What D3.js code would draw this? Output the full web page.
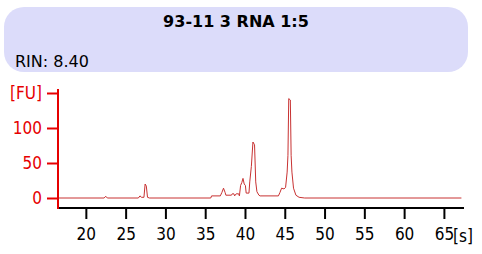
<!DOCTYPE html>
<html>
<head>
<meta charset="utf-8">
<script src="https://cdn.jsdelivr.net/npm/d3@7"></script>
<style>
  body { margin: 0; background: #fff; }
  text { font-family: "DejaVu Sans Condensed", "DejaVu Sans", sans-serif; }
</style>
</head>
<body>
<svg id="chart" width="482" height="254"></svg>
<script>
const title = "93-11 3 RNA 1:5";
const rinLabel = "RIN: 8.40";

// electropherogram trace: time [s] and fluorescence [FU]
const times = [16.5, 22.3, 22.5, 22.7, 26.6, 26.8, 27.0, 27.3, 27.45, 27.6, 27.75, 28.0,
  35.7, 35.8, 36.9, 37.1, 37.3, 37.5, 37.6, 38.3, 38.4, 38.6, 38.7, 38.9, 39.2, 39.3,
  39.45, 39.6, 39.75, 39.9, 40.05, 40.15, 40.5, 40.6, 40.8, 41.0, 41.2, 41.35, 41.5,
  41.75, 41.9, 44.2, 44.4, 44.6, 44.9, 45.1, 45.3, 45.4, 45.5, 45.7, 45.8, 45.9, 46.1,
  46.4, 46.8, 47.5, 67.2];
const fu = [0, 0, 2.5, 0, 0, 3, 1, 1, 20, 17, 1, 0,
  0, 3, 3, 8, 14, 8, 4, 4, 6, 6, 3, 6, 6, 3,
  18, 22, 28, 20, 18, 7, 7, 23, 45, 80, 76, 23, 9,
  4, 3, 3, 8, 14, 13, 15, 37, 61, 142, 140, 61, 37, 14,
  4, 1, 0, 0];

const xTicks = [20, 25, 30, 35, 40, 45, 50, 55, 60, 65];
const yTicks = [0, 50, 100, 150];
const yTickLabels = ["0", "50", "100", "[FU]"];

const svg = d3.select("#chart");

// header box
svg.append("rect")
  .attr("x", 4).attr("y", 7)
  .attr("width", 464).attr("height", 65)
  .attr("rx", 20).attr("ry", 20)
  .attr("fill", "#dcdcfa");

svg.append("text")
  .attr("x", 236).attr("y", 27)
  .attr("text-anchor", "middle")
  .attr("font-size", 16)
  .attr("font-weight", "bold")
  .attr("fill", "#000")
  .style("font-family", '"DejaVu Sans", sans-serif')
  .text(title);

svg.append("text")
  .attr("x", 15).attr("y", 67)
  .attr("font-size", 16)
  .attr("fill", "#000")
  .style("font-family", '"DejaVu Sans", sans-serif')
  .text(rinLabel);

const x = d3.scaleLinear().domain([16.5, 67.4]).range([58, 463]);
const y = d3.scaleLinear().domain([0, 150]).range([198, 93]);

// trace
const line = d3.line()
  .x((d, i) => x(times[i]))
  .y(d => y(d));

svg.append("path")
  .datum(fu)
  .attr("fill", "none")
  .attr("stroke", "#c83232")
  .attr("stroke-width", 1)
  .attr("d", line);

// x axis
const xAxis = svg.append("g")
  .attr("transform", "translate(0,208)")
  .call(d3.axisBottom(x).tickValues(xTicks).tickSize(11).tickPadding(9));
xAxis.select(".domain").attr("stroke", "#000").attr("stroke-width", 2)
  .attr("d", "M58,0H464");
xAxis.selectAll(".tick line").attr("stroke", "#000").attr("stroke-width", 2);
xAxis.selectAll(".tick text")
  .attr("font-size", 17)
  .attr("fill", "#000")
  .style("font-family", '"DejaVu Sans Condensed", "DejaVu Sans", sans-serif');

svg.append("text")
  .attr("x", 453).attr("y", 242)
  .attr("font-size", 17)
  .attr("fill", "#000")
  .text("[s]");

// y axis
const yAxis = svg.append("g")
  .attr("transform", "translate(58,0)")
  .call(d3.axisLeft(y).tickValues(yTicks)
    .tickFormat((d, i) => yTickLabels[i]).tickSize(11).tickPadding(5));
yAxis.select(".domain").attr("stroke", "#e60000").attr("stroke-width", 2)
  .attr("d", "M0,89V209");
yAxis.selectAll(".tick line").attr("stroke", "#e60000").attr("stroke-width", 2);
yAxis.selectAll(".tick text")
  .attr("font-size", 17)
  .attr("fill", "#e60000")
  .style("font-family", '"DejaVu Sans Condensed", "DejaVu Sans", sans-serif');
</script>
</body>
</html>
